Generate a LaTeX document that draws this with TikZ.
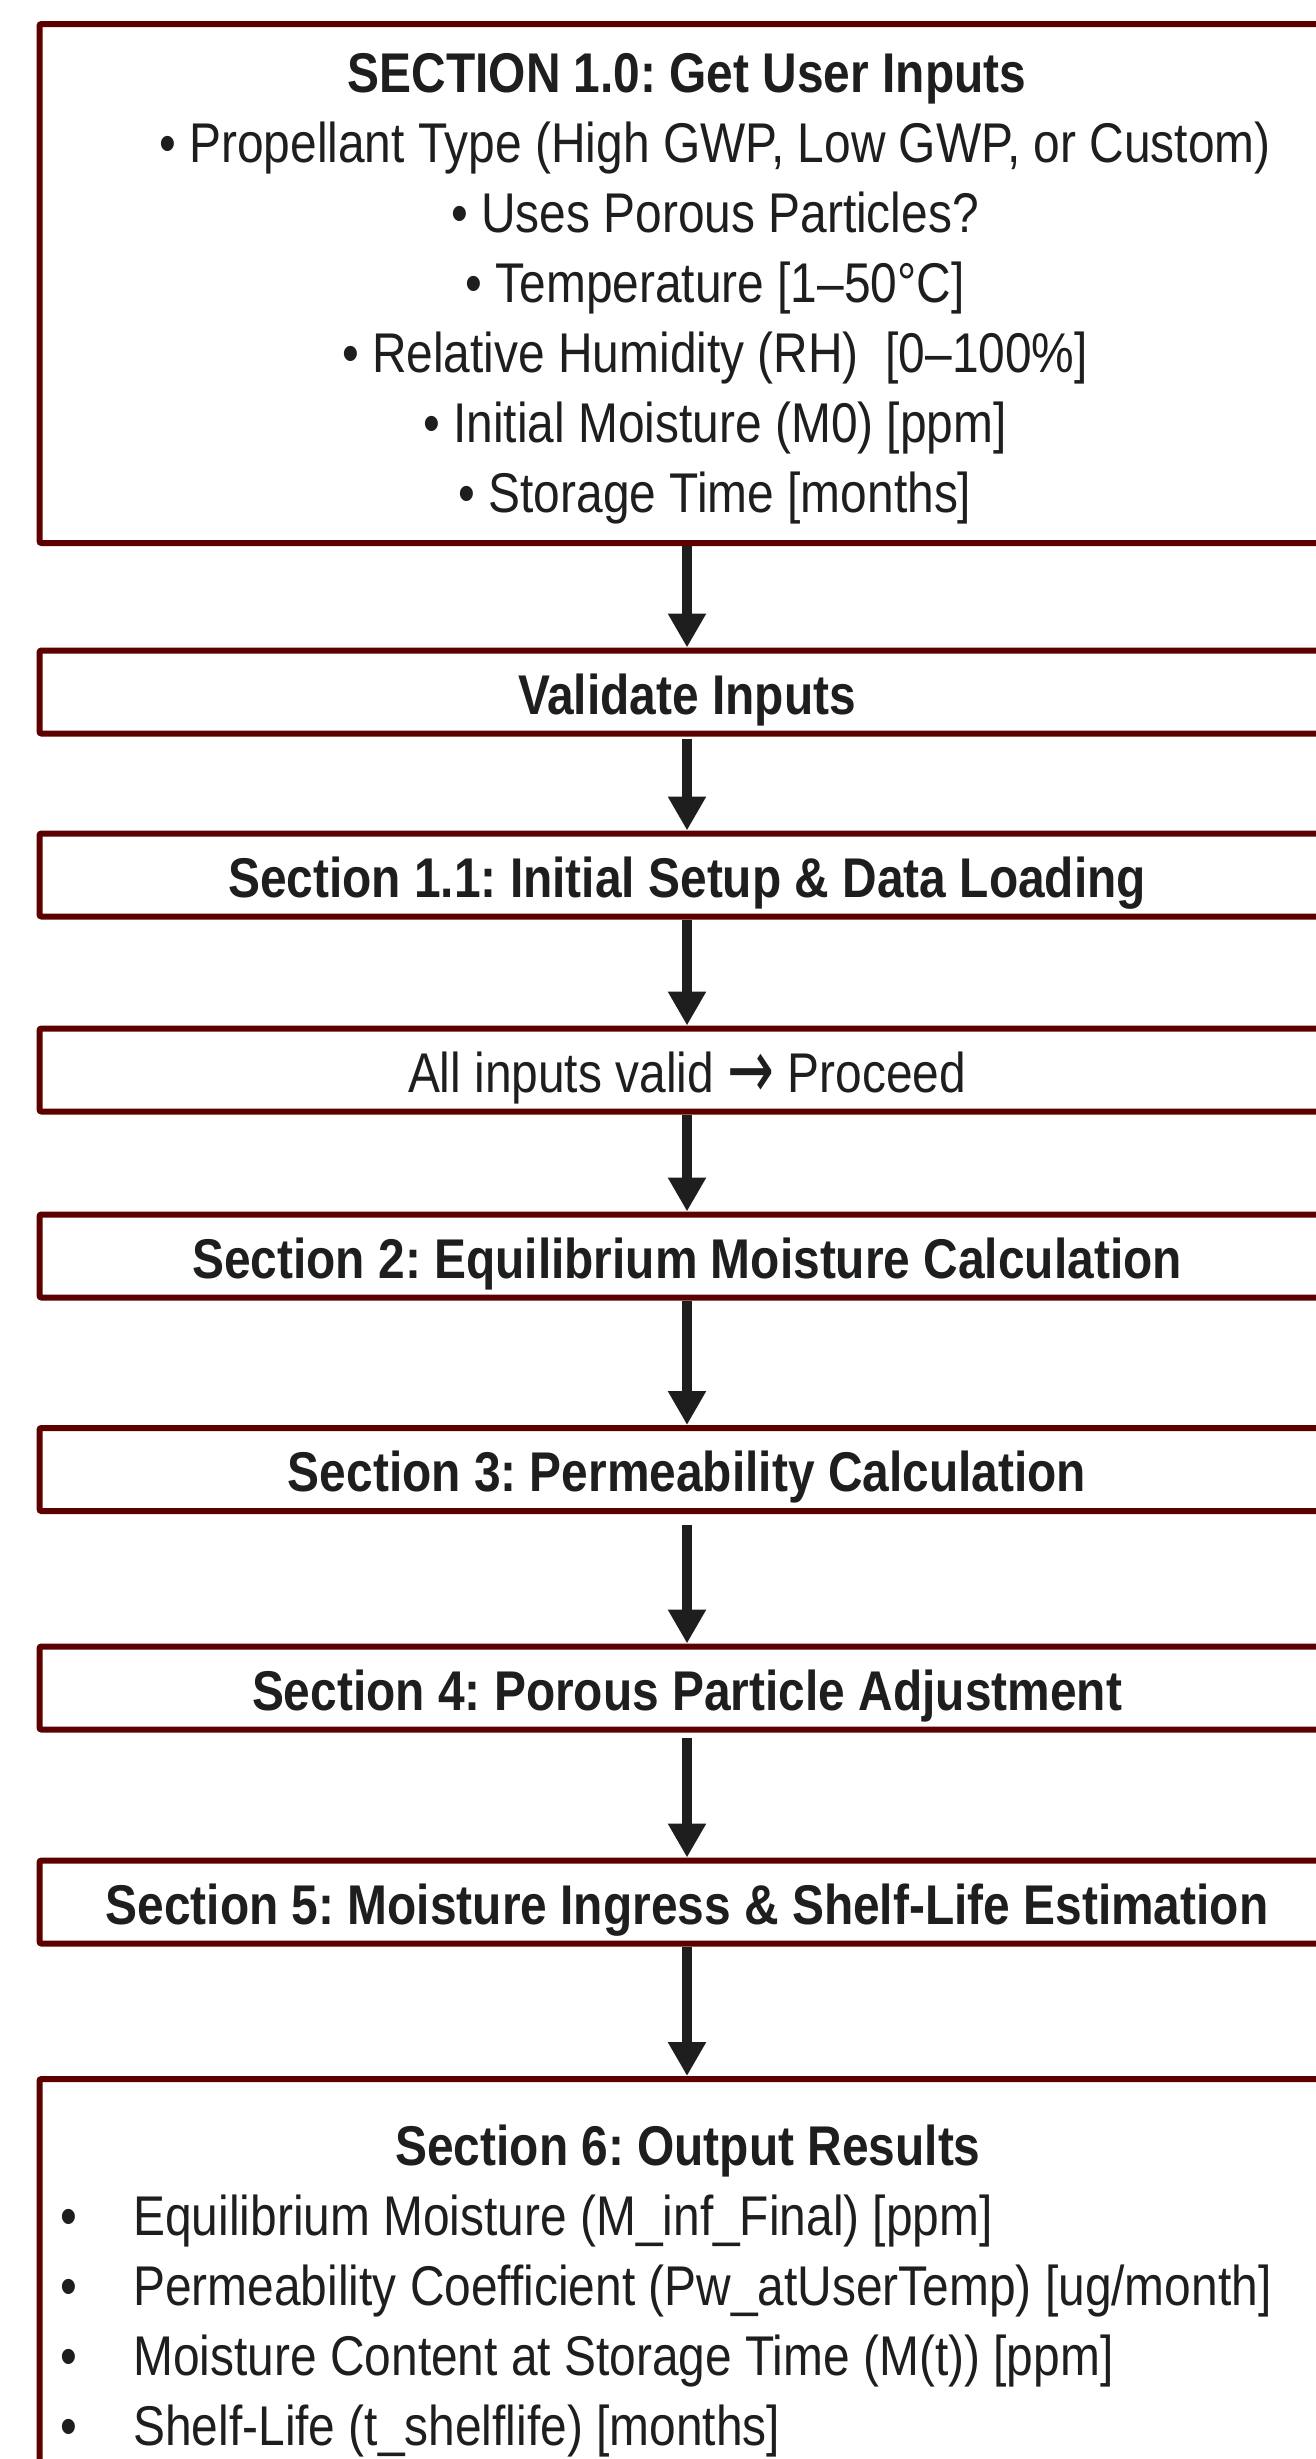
\documentclass[tikz,border=0pt]{standalone}
\usepackage{fontspec}
\setmainfont{Liberation Sans}[FakeStretch=0.855]
\newfontfamily\arrowfont{DejaVu Sans}
\usetikzlibrary{arrows.meta}

\definecolor{boxred}{RGB}{92,0,0}
\definecolor{inkgray}{RGB}{30,30,30}

\tikzset{
  stagebox/.style={draw=boxred, line width=3pt, rounded corners=1pt,
    minimum width=647.5pt, minimum height=41.5pt, inner sep=0pt,
    text height=24pt, text depth=2pt, text=inkgray,
    font=\fontsize{28pt}{35pt}\selectfont\bfseries},
  boxtext/.style={inner sep=0pt, text=inkgray,
    font=\fontsize{28pt}{35pt}\selectfont},
  flowarrow/.style={draw=inkgray, line width=5pt,
    -{Triangle[width=18pt,length=17pt]}}
}

\frenchspacing

\begin{document}
\begin{tikzpicture}[x=0.5pt,y=-0.5pt]

    % Page frame (pixel units, y going down)
    \useasboundingbox (0,0) rectangle (1316,2459);
    \clip (0,0) rectangle (1316,2459);

    % Section 1.0 box with the list of inputs
    \node[stagebox, minimum height=259.5pt] (inputs) at (687,283.5) {};
    \node[boxtext, anchor=north, align=center] (inputlist) at (687,53) {%
      \textbf{SECTION 1.0: Get User Inputs}\\
      \hspace*{28pt}• Propellant Type (High GWP, Low GWP, or Custom)\\
      \hspace*{28pt}• Uses Porous Particles?\\
      \hspace*{28pt}• Temperature [1–50°C]\\
      \hspace*{28pt}• Relative Humidity (RH)\ \ [0–100\%]\\
      \hspace*{28pt}• Initial Moisture (M0) [ppm]\\
      \hspace*{28pt}• Storage Time [months]};

    % The single-line stages
    \node[stagebox] (validate) at (687,692) {Validate Inputs};
    \node[stagebox] (setup) at (687,875) {Section 1.1: Initial Setup \& Data Loading};
    \node[stagebox, font=\fontsize{28pt}{35pt}\selectfont] (proceed) at (687,1070)
      {All inputs valid \raisebox{-3pt}{\scalebox{1}[1.5]{\arrowfont →}} Proceed};
    \node[stagebox] (equil) at (687,1256) {Section 2: Equilibrium Moisture Calculation};
    \node[stagebox] (perm) at (687,1469.5) {Section 3: Permeability Calculation};
    \node[stagebox] (porous) at (687,1688) {Section 4: Porous Particle Adjustment};
    \node[stagebox] (ingress) at (687,1902) {Section 5: Moisture Ingress \& Shelf-Life Estimation};

    % Section 6 box with the results (runs off the page)
    \node[stagebox, minimum height=210.5pt] (results) at (687,2289.5) {};
    \node[boxtext, anchor=base] (restitle) at (688,2165) {\bfseries Section 6: Output Results};
    \node[boxtext, anchor=base west] (resa) at (60,2235) {\makebox[36.5pt][l]{•}Equilibrium Moisture (M\_inf\_Final) [ppm]};
    \node[boxtext, anchor=base west] (resb) at (60,2305) {\makebox[36.5pt][l]{•}Permeability Coefficient (Pw\_atUserTemp) [ug/month]};
    \node[boxtext, anchor=base west] (resc) at (60,2375) {\makebox[36.5pt][l]{•}Moisture Content at Storage Time (M(t)) [ppm]};
    \node[boxtext, anchor=base west] (resd) at (60,2445) {\makebox[36.5pt][l]{•}Shelf-Life (t\_shelflife) [months]};

    % Arrows between the stages
    \draw[flowarrow] (inputs.south) -- (validate.north);
    \draw[flowarrow, shorten <=1pt] (validate.south) -- (setup.north);
    \draw[flowarrow] (setup.south) -- (proceed.north);
    \draw[flowarrow] (proceed.south) -- (equil.north);
    \draw[flowarrow] (equil.south) -- (perm.north);
    \draw[flowarrow, shorten <=5.5pt] (perm.south) -- (porous.north);
    \draw[flowarrow, shorten <=2.5pt] (porous.south) -- (ingress.north);
    \draw[flowarrow] (ingress.south) -- (results.north);

\end{tikzpicture}
\end{document}
